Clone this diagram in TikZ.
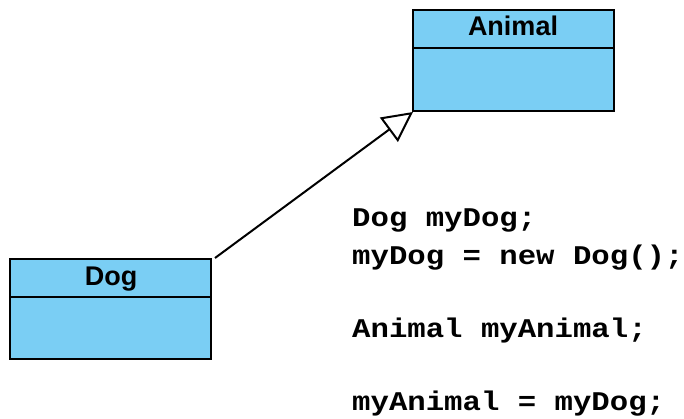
\documentclass[tikz,border=0pt]{standalone}
\usepackage{fontspec}
\setmainfont{Liberation Sans}
\newfontfamily\codefont{Liberation Mono}
\usetikzlibrary{arrows.meta}
\definecolor{boxblue}{RGB}{122,206,244}
\tikzset{
  classbox/.style={draw=black, fill=boxblue, line width=2pt},
  classname/.style={font=\fontsize{27}{30}\selectfont\bfseries, inner sep=0pt, anchor=base},
  codeline/.style={font=\codefont\fontsize{27}{30}\selectfont\bfseries, inner sep=0pt, anchor=base west},
  inherit/.style={line width=2pt, -{Triangle[open, length=30pt, width=30pt, line width=2pt]}}
}
\newcommand{\cl}[1]{\scalebox{1.136}[1]{#1}}
\begin{document}
\begin{tikzpicture}[x=1pt, y=-1pt]
\useasboundingbox (0,0) rectangle (684,419);
% Animal class
\draw[classbox] (413,10) rectangle (614,111);
\draw[line width=2pt] (413,48) -- (614,48);
\node[classname] (animalname) at (513,36) {Animal};
\coordinate (animalsw) at (413,112);
% Dog class
\draw[classbox] (10,259) rectangle (211,359);
\draw[line width=2pt] (10,297) -- (211,297);
\node[classname] (dogname) at (111,285) {Dog};
\coordinate (dogne) at (215,258);
% generalization
\draw[inherit] (dogne) -- (animalsw);
% code
\node[codeline] (c1) at (352,227) {\cl{Dog myDog;}};
\node[codeline] (c2) at (352,265) {\cl{myDog = new Dog();}};
\node[codeline] (c3) at (352,337) {\cl{Animal myAnimal;}};
\node[codeline] (c4) at (352,410) {\cl{myAnimal = myDog;}};
\end{tikzpicture}
\end{document}
